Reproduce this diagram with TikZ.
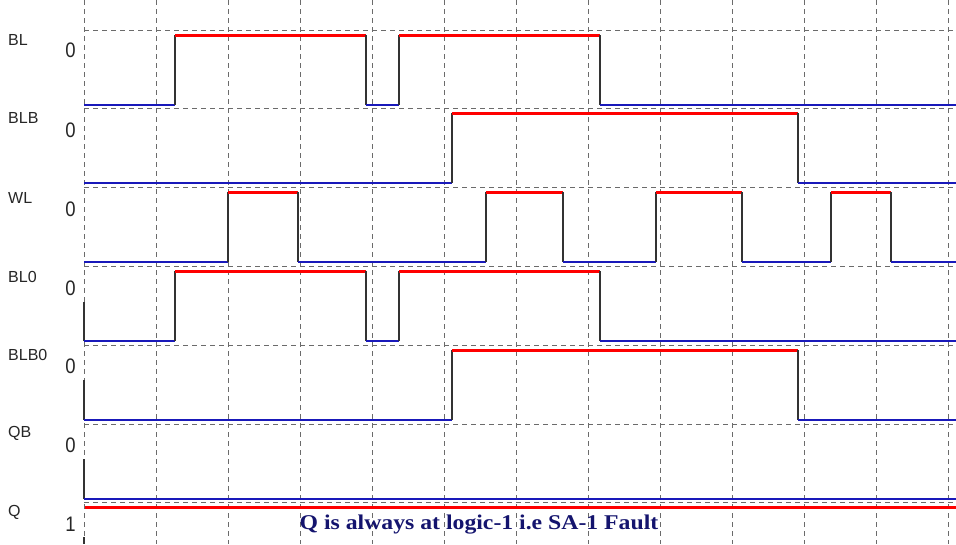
\documentclass[tikz,border=0pt]{standalone}
\usepackage{fontspec}
\setmainfont{Liberation Sans}
\newfontfamily\capfont{Liberation Serif}
\begin{document}
\begin{tikzpicture}[x=1pt,y=-1pt,
  gridline/.style={draw=black!58, line width=1pt, dash pattern=on 5pt off 4pt},
  lowlvl/.style={draw=blue!70!black!90, line width=1.4pt},
  highlvl/.style={draw=red, line width=3pt},
  edge/.style={draw=black!80, line width=1.4pt},
  siglabel/.style={anchor=west, inner sep=0pt, text=black!85, font=\fontsize{16}{16}\selectfont},
  levellabel/.style={inner sep=0pt, text=black!85, font=\fontsize{21}{21}\selectfont},
  caption/.style={inner sep=0pt, text={rgb,255:red,20;green,20;blue,110}, font=\capfont\bfseries\fontsize{21}{21}\selectfont}]
\useasboundingbox (0,0) rectangle (956,544);
\fill[white] (0,0) rectangle (956,544);

% dashed grid
\foreach \k in {0,...,12}
  \draw[gridline] ({84+72.08*\k},0) -- ({84+72.08*\k},544);
\foreach \k in {0,...,6}
  \draw[gridline] (84,{30+78.8*\k}) -- (956,{30+78.8*\k});

% signal names
\node[siglabel] (nBL)   at (8,40)  {BL};
\node[siglabel] (nBLB)  at (8,118) {BLB};
\node[siglabel] (nWL)   at (8,198) {WL};
\node[siglabel] (nBL0)  at (8,277) {BL0};
\node[siglabel] (nBLB0) at (8,355) {BLB0};
\node[siglabel] (nQB)   at (8,433) {QB};
\node[siglabel] (nQ)    at (8,512) {Q};

% initial values
\node[levellabel] (vBL)   at (70.5,50.5) {\scalebox{0.88}[1]{0}};
\node[levellabel] (vBLB)  at (70.5,130)  {\scalebox{0.88}[1]{0}};
\node[levellabel] (vWL)   at (70.5,209)  {\scalebox{0.88}[1]{0}};
\node[levellabel] (vBL0)  at (70.5,288)  {\scalebox{0.88}[1]{0}};
\node[levellabel] (vBLB0) at (70.5,366)  {\scalebox{0.88}[1]{0}};
\node[levellabel] (vQB)   at (70.5,445)  {\scalebox{0.88}[1]{0}};
\node[levellabel] (vQ)    at (70.5,524.5){\scalebox{0.88}[1]{1}};

% BL
\draw[lowlvl] (84,105) -- (175,105);
\draw[edge] (175,105) -- (175,35);
\draw[highlvl] (175,35) -- (366,35);
\draw[edge] (366,35) -- (366,105);
\draw[lowlvl] (366,105) -- (399,105);
\draw[edge] (399,105) -- (399,35);
\draw[highlvl] (399,35) -- (600,35);
\draw[edge] (600,35) -- (600,105);
\draw[lowlvl] (600,105) -- (956,105);

% BLB
\draw[lowlvl] (84,183) -- (452,183);
\draw[edge] (452,183) -- (452,113);
\draw[highlvl] (452,113) -- (798,113);
\draw[edge] (798,113) -- (798,183);
\draw[lowlvl] (798,183) -- (956,183);

% WL
\draw[lowlvl] (84,262) -- (228,262);
\draw[edge] (228,262) -- (228,192);
\draw[highlvl] (228,192) -- (298,192);
\draw[edge] (298,192) -- (298,262);
\draw[lowlvl] (298,262) -- (486,262);
\draw[edge] (486,262) -- (486,192);
\draw[highlvl] (486,192) -- (563,192);
\draw[edge] (563,192) -- (563,262);
\draw[lowlvl] (563,262) -- (656,262);
\draw[edge] (656,262) -- (656,192);
\draw[highlvl] (656,192) -- (742,192);
\draw[edge] (742,192) -- (742,262);
\draw[lowlvl] (742,262) -- (831,262);
\draw[edge] (831,262) -- (831,192);
\draw[highlvl] (831,192) -- (891,192);
\draw[edge] (891,192) -- (891,262);
\draw[lowlvl] (891,262) -- (956,262);

% BL0
\draw[edge] (84,302) -- (84,341);
\draw[lowlvl] (84,341) -- (175,341);
\draw[edge] (175,341) -- (175,271);
\draw[highlvl] (175,271) -- (366,271);
\draw[edge] (366,271) -- (366,341);
\draw[lowlvl] (366,341) -- (399,341);
\draw[edge] (399,341) -- (399,271);
\draw[highlvl] (399,271) -- (600,271);
\draw[edge] (600,271) -- (600,341);
\draw[lowlvl] (600,341) -- (956,341);

% BLB0
\draw[edge] (84,380) -- (84,420);
\draw[lowlvl] (84,420) -- (452,420);
\draw[edge] (452,420) -- (452,350);
\draw[highlvl] (452,350) -- (798,350);
\draw[edge] (798,350) -- (798,420);
\draw[lowlvl] (798,420) -- (956,420);

% QB
\draw[edge] (84,459) -- (84,499);
\draw[lowlvl] (84,499) -- (956,499);

% Q
\draw[highlvl] (85,507) -- (956,507);
\draw[edge] (84,537) -- (84,544);

\node[caption] (note) at (479,525) {\scalebox{1.13}[1]{Q is always at logic-1 i.e SA-1 Fault}};
\end{tikzpicture}
\end{document}
